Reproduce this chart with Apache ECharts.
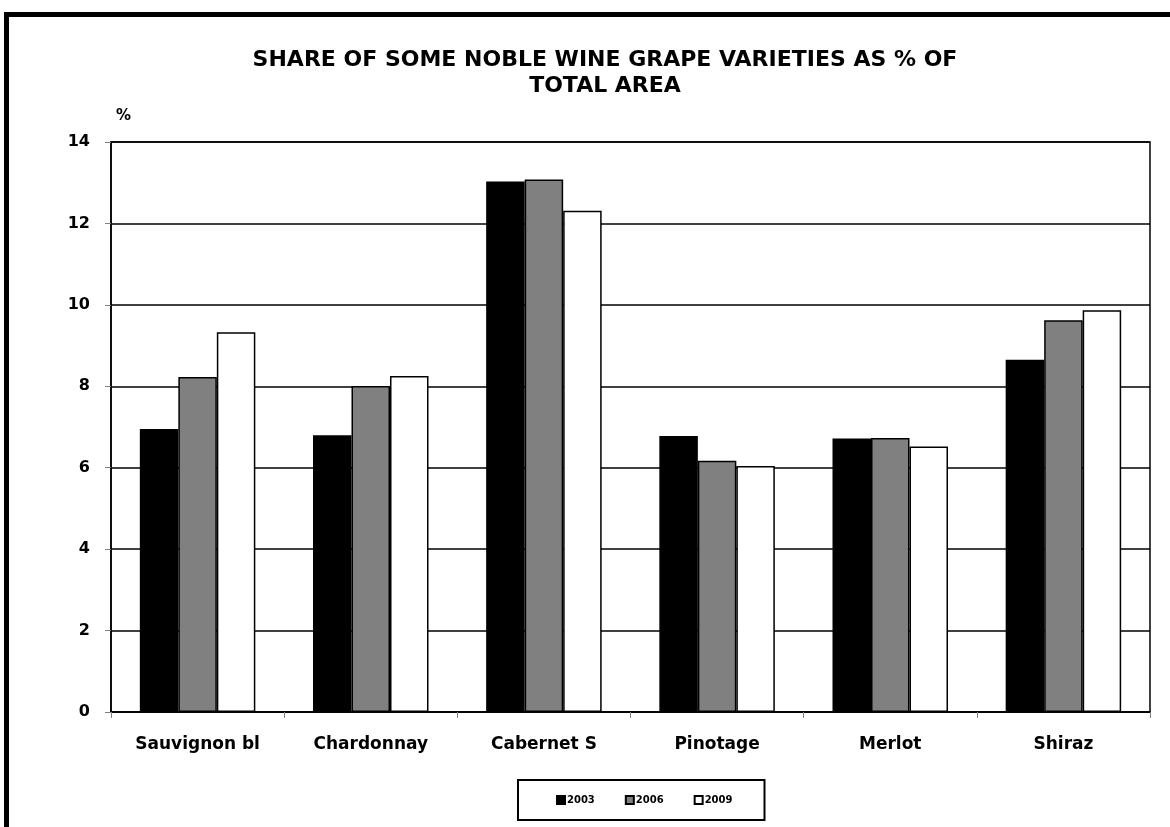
<!DOCTYPE html>
<html>
<head>
<meta charset="utf-8">
<script src="https://cdn.jsdelivr.net/npm/echarts@6/dist/echarts.min.js"></script>
<style>
  html, body { margin: 0; padding: 0; background: #fff; }
  #chart { width: 1170px; height: 827px; }
</style>
</head>
<body>
<div id="chart"></div>
<script>
// grape varieties and share of total area (%)
const varieties = ['Sauvignon bl', 'Chardonnay', 'Cabernet S', 'Pinotage', 'Merlot', 'Shiraz'];
const years = ['2003', '2006', '2009'];
const share2003 = [6.95, 6.80, 13.03, 6.78, 6.72, 8.65];
const share2006 = [8.23, 8.01, 13.08, 6.17, 6.73, 9.62];
const share2009 = [9.33, 8.25, 12.31, 6.04, 6.52, 9.87];
const yTicks = [0, 2, 4, 6, 8, 10, 12, 14];

const fillColors = ['#000000', '#808080', '#ffffff'];
const seriesData = [share2003, share2006, share2009];
const font = '"DejaVu Sans", Arial, sans-serif';

const chart = echarts.init(document.getElementById('chart'));

chart.setOption({
  animation: false,
  backgroundColor: '#fff',
  title: {
    text: 'SHARE OF SOME NOBLE WINE GRAPE VARIETIES AS % OF\nTOTAL AREA',
    left: 600,
    textAlign: 'center',
    top: 42,
    padding: 5,
    textStyle: { fontFamily: font, fontSize: 22, fontWeight: 'bold', color: '#000', lineHeight: 26 }
  },
  graphic: [{
    // outer frame, only top and left edges fall inside the page
    type: 'rect',
    shape: { x: 6.5, y: 14.5, width: 1400, height: 1000 },
    style: { fill: 'none', stroke: '#000', lineWidth: 5 },
    silent: true
  }],
  legend: {
    data: years,
    left: 518,
    top: 780,
    padding: [15, 32, 15, 38],
    borderColor: '#000',
    borderWidth: 2,
    itemWidth: 8,
    itemHeight: 8,
    itemGap: 30,
    icon: 'rect',
    textStyle: { fontFamily: font, fontSize: 10, fontWeight: 'bold', color: '#000', padding: [0, 0, 0, -3] }
  },
  grid: {
    left: 111,
    right: 20,
    top: 142,
    bottom: 115,
    show: true,
    borderColor: '#000',
    borderWidth: 1.5
  },
  xAxis: {
    type: 'category',
    data: varieties,
    axisLine: { lineStyle: { color: '#000', width: 1.5 } },
    axisTick: { show: true, length: 6, lineStyle: { color: '#808080' } },
    axisLabel: { margin: 24, fontFamily: font, fontSize: 17, fontWeight: 'bold', color: '#000' }
  },
  yAxis: {
    type: 'value',
    min: yTicks[0],
    max: yTicks[yTicks.length - 1],
    interval: 2,
    name: '%',
    nameLocation: 'end',
    nameGap: 26,
    nameTextStyle: { fontFamily: font, fontSize: 15, fontWeight: 'bold', color: '#000', align: 'left', verticalAlign: 'middle', padding: [0, 0, 0, 5] },
    axisLine: { show: true, lineStyle: { color: '#000', width: 1.5 } },
    axisTick: { show: true, length: 6, lineStyle: { color: '#808080' } },
    axisLabel: { margin: 21, fontFamily: font, fontSize: 16, fontWeight: 'bold', color: '#000' },
    splitLine: { show: true, lineStyle: { color: '#000', width: 1.5 } }
  },
  series: years.map((y, i) => ({
    name: y,
    type: 'bar',
    data: seriesData[i],
    barWidth: 38.5,
    barGap: '0%',
    itemStyle: { color: fillColors[i], borderColor: '#000', borderWidth: 1.5 }
  }))
});
</script>
</body>
</html>
